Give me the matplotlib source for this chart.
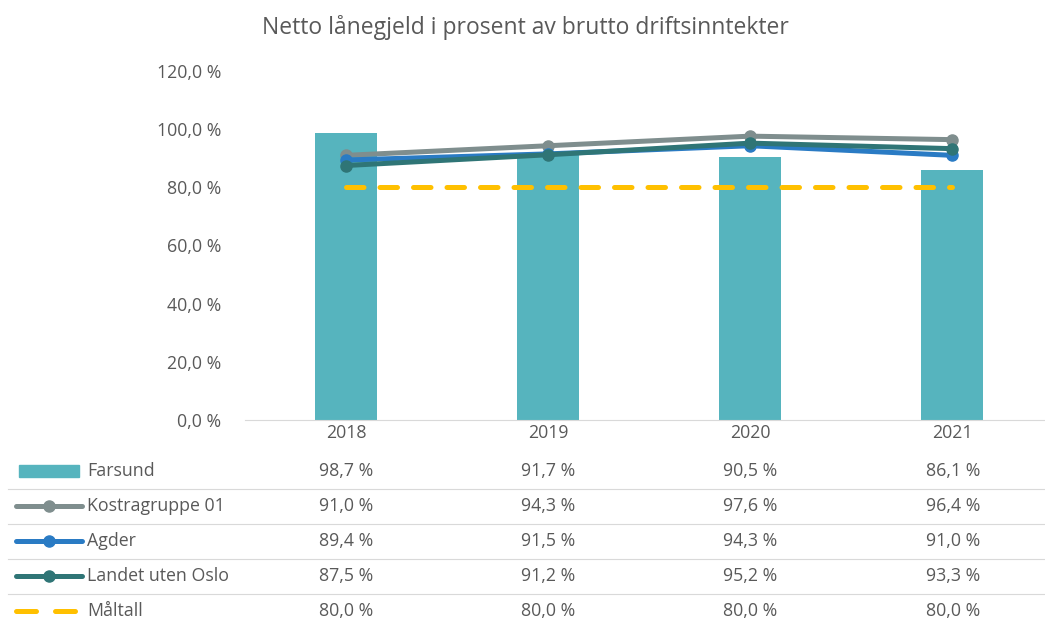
import matplotlib
matplotlib.use("Agg")
import matplotlib.pyplot as plt
from matplotlib.lines import Line2D
from matplotlib.patches import Rectangle

years = ["2018", "2019", "2020", "2021"]
farsund = [98.7, 91.7, 90.5, 86.1]
kostra = [91.0, 94.3, 97.6, 96.4]
agder = [89.4, 91.5, 94.3, 91.0]
landet = [87.5, 91.2, 95.2, 93.3]
maltall = [80.0, 80.0, 80.0, 80.0]
y_ticks = [0, 20, 40, 60, 80, 100, 120]

c_bar = "#56B4BE"
c_kostra = "#7F8E8E"
c_agder = "#2A7BC4"
c_landet = "#2F7576"
c_mal = "#FFC000"
txt = "#595959"

plt.rcParams['font.family'] = ['Open Sans', 'DejaVu Sans']

W, H = 1045, 621
fig = plt.figure(figsize=(W / 100, H / 100), dpi=100)

def fx(x):
    return x / W

def fy(y):
    return 1 - y / H

ax_left, ax_right, ax_top, ax_bot = 245, 1045, 71, 420
ax = fig.add_axes([fx(ax_left), fy(ax_bot), (ax_right - ax_left) / W, (ax_bot - ax_top) / H])
x = list(range(len(years)))
ax.bar(x, farsund, width=0.31, color=c_bar, zorder=1)
ax.plot(x, maltall, color=c_mal, lw=3.6, dashes=(3.5, 3.2), dash_capstyle='round', zorder=2)
ax.plot(x, kostra, color=c_kostra, lw=3.6, marker='o', ms=8, solid_capstyle='round', zorder=3)
ax.plot(x, agder, color=c_agder, lw=3.6, marker='o', ms=8, solid_capstyle='round', zorder=4)
ax.plot(x, landet, color=c_landet, lw=3.6, marker='o', ms=8, solid_capstyle='round', zorder=5)

ax.set_xlim(-0.5, 3.46)
ax.set_ylim(0, 120)
ax.set_yticks(y_ticks)
ax.set_yticklabels([f"{v:.1f} %".replace('.', ',') for v in y_ticks], color=txt, fontsize=12.8)
ax.tick_params(axis='y', length=0, pad=17)
ax.set_xticks(x)
ax.set_xticklabels(years, color=txt, fontsize=12.8)
ax.tick_params(axis='x', length=0, pad=3)
for s in ['top', 'right', 'left']:
    ax.spines[s].set_visible(False)
ax.spines['bottom'].set_color('#D9D9D9')

fig.text(fx(525), fy(28), "Netto lånegjeld i prosent av brutto driftsinntekter",
         ha='center', va='center', fontsize=16.5, color=txt)

# data table
names = ["Farsund", "Kostragruppe 01", "Agder", "Landet uten Oslo", "Måltall"]
series = [farsund, kostra, agder, landet, maltall]
colors = [c_bar, c_kostra, c_agder, c_landet, c_mal]
row_y = [471, 506, 541, 576, 611]
col_x = [346, 548, 750, 953]
for i, (nm, vals, col, yy) in enumerate(zip(names, series, colors, row_y)):
    fig.text(fx(87), fy(yy), nm, ha='left', va='center', fontsize=12.8, color=txt)
    for cx, v in zip(col_x, vals):
        fig.text(fx(cx), fy(yy), f"{v:.1f} %".replace('.', ','), ha='center', va='center',
                 fontsize=12.8, color=txt)
    if i == 0:
        fig.patches.append(Rectangle((fx(19), fy(yy + 6)), fx(60), 12 / H, color=col,
                                     transform=fig.transFigure))
    elif i < 4:
        fig.lines.append(Line2D([fx(16), fx(82)], [fy(yy), fy(yy)], color=col, lw=3.6,
                                solid_capstyle='round', transform=fig.transFigure))
        fig.lines.append(Line2D([fx(49)], [fy(yy)], color=col, marker='o', ms=8,
                                transform=fig.transFigure))
    else:
        for a, b in [(16, 36), (55, 75)]:
            fig.lines.append(Line2D([fx(a), fx(b)], [fy(yy), fy(yy)], color=col, lw=3.6,
                                    solid_capstyle='round', transform=fig.transFigure))
    if i < 4:
        ly = yy + 18
        fig.lines.append(Line2D([fx(8), fx(1045)], [fy(ly), fy(ly)], color='#D9D9D9', lw=0.8,
                                transform=fig.transFigure))

fig.savefig("out.png", dpi=100)
